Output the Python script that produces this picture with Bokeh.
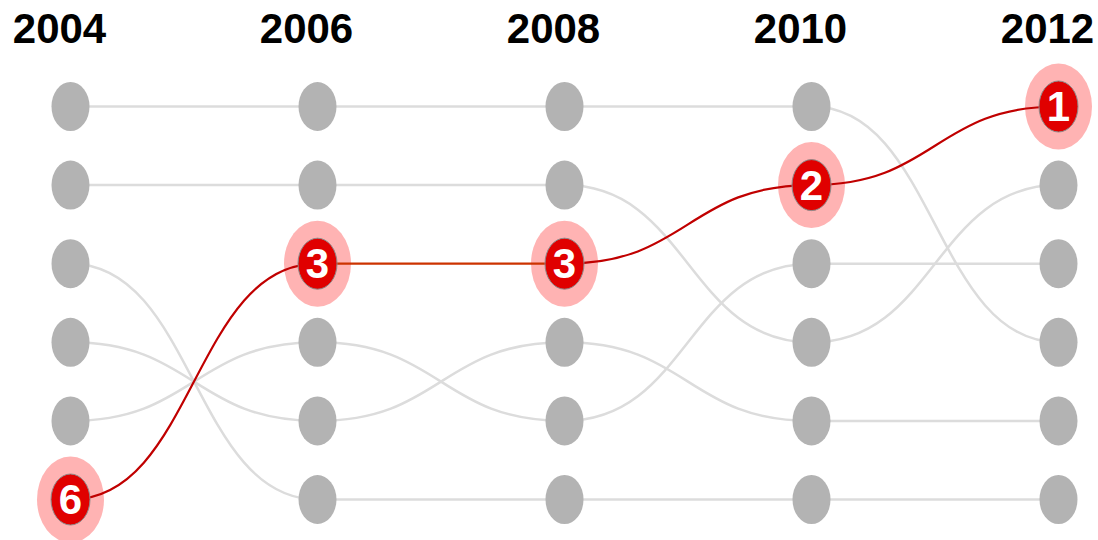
from bokeh.plotting import figure
from bokeh.models import Range1d, ColumnDataSource
from bokeh.embed import file_html
from bokeh.resources import INLINE
from bokeh.core.properties import value

years = [2004, 2006, 2008, 2010, 2012]
year_labels = ["2004", "2006", "2008", "2010", "2012"]

# gray (context) series: rank at each year
rank_a = [1, 1, 1, 1, 4]
rank_b = [2, 2, 2, 4, 2]
rank_c = [3, 6, 6, 6, 6]
rank_d = [4, 5, 4, 5, 5]
rank_e = [5, 4, 5, 3, 3]
# highlighted series
rank_hi = [6, 3, 3, 2, 1]
gray_series = [rank_a, rank_b, rank_c, rank_d, rank_e]

W, H = 1098, 540
px_per_year = 123.5
px_per_rank = 78.6
x0_px, y0_px = 70, 106  # screen position of first year / rank 1 inside the figure

p = figure(width=W, height=H, output_backend="svg", toolbar_location=None,
           x_range=Range1d(years[0] - x0_px / px_per_year, years[0] + (W - x0_px) / px_per_year),
           y_range=Range1d(1 + (H - y0_px) / px_per_rank, 1 - y0_px / px_per_rank),
           min_border=0, outline_line_color=None, background_fill_color="white",
           border_fill_color="white")
p.axis.visible = False
p.grid.visible = False


def seg_source(ranks):
    xs0, ys0, xs1, ys1, cx0, cy0, cx1, cy1 = [], [], [], [], [], [], [], []
    for i in range(len(years) - 1):
        a, b = years[i], years[i + 1]
        m = (b - a) / 2
        xs0.append(a); ys0.append(ranks[i]); xs1.append(b); ys1.append(ranks[i + 1])
        cx0.append(a + m); cy0.append(ranks[i]); cx1.append(b - m); cy1.append(ranks[i + 1])
    return dict(x0=xs0, y0=ys0, x1=xs1, y1=ys1, cx0=cx0, cy0=cy0, cx1=cx1, cy1=cy1)


for r in gray_series:
    src = ColumnDataSource(seg_source(r))
    p.bezier(x0="x0", y0="y0", x1="x1", y1="y1", cx0="cx0", cy0="cy0", cx1="cx1", cy1="cy1",
             source=src, line_color="#dcdcdc", line_width=2.5)

# gray dots
gx, gy = [], []
for r in gray_series:
    for yr, rk in zip(years, r):
        gx.append(yr); gy.append(rk)
p.ellipse(x=gx, y=gy, width=38, height=49, width_units="screen", height_units="screen",
          fill_color="#b3b3b3", line_color=None)

# highlight halo
p.ellipse(x=years, y=rank_hi, width=67, height=86, width_units="screen", height_units="screen",
          fill_color="#ffb3b3", line_color=None)

hs = seg_source(rank_hi)
hs["color"] = ["#c00000", "#cc3300", "#c00000", "#c00000"]
p.bezier(x0="x0", y0="y0", x1="x1", y1="y1", cx0="cx0", cy0="cy0", cx1="cx1", cy1="cy1",
         source=ColumnDataSource(hs), line_color="color", line_width=2.2)

p.ellipse(x=years, y=rank_hi, width=39, height=51, width_units="screen", height_units="screen",
          fill_color="#e00000", line_color="#8c8c8c", line_width=1)

p.text(x=years, y=rank_hi, text=[str(r) for r in rank_hi], text_color="white",
       text_font=value("Liberation Sans"), text_font_style="bold", text_font_size="42px",
       text_align="center", text_baseline="middle", y_offset=0)

label_y = 1 - (y0_px - 28) / px_per_rank
p.text(x=years, y=[label_y] * len(years), text=year_labels, text_color="black",
       text_font=value("Liberation Sans"), text_font_style="bold", text_font_size="42px",
       text_align="center", text_baseline="alphabetic", x_offset=-11)

open("out.html", "w").write(file_html(p, INLINE))
